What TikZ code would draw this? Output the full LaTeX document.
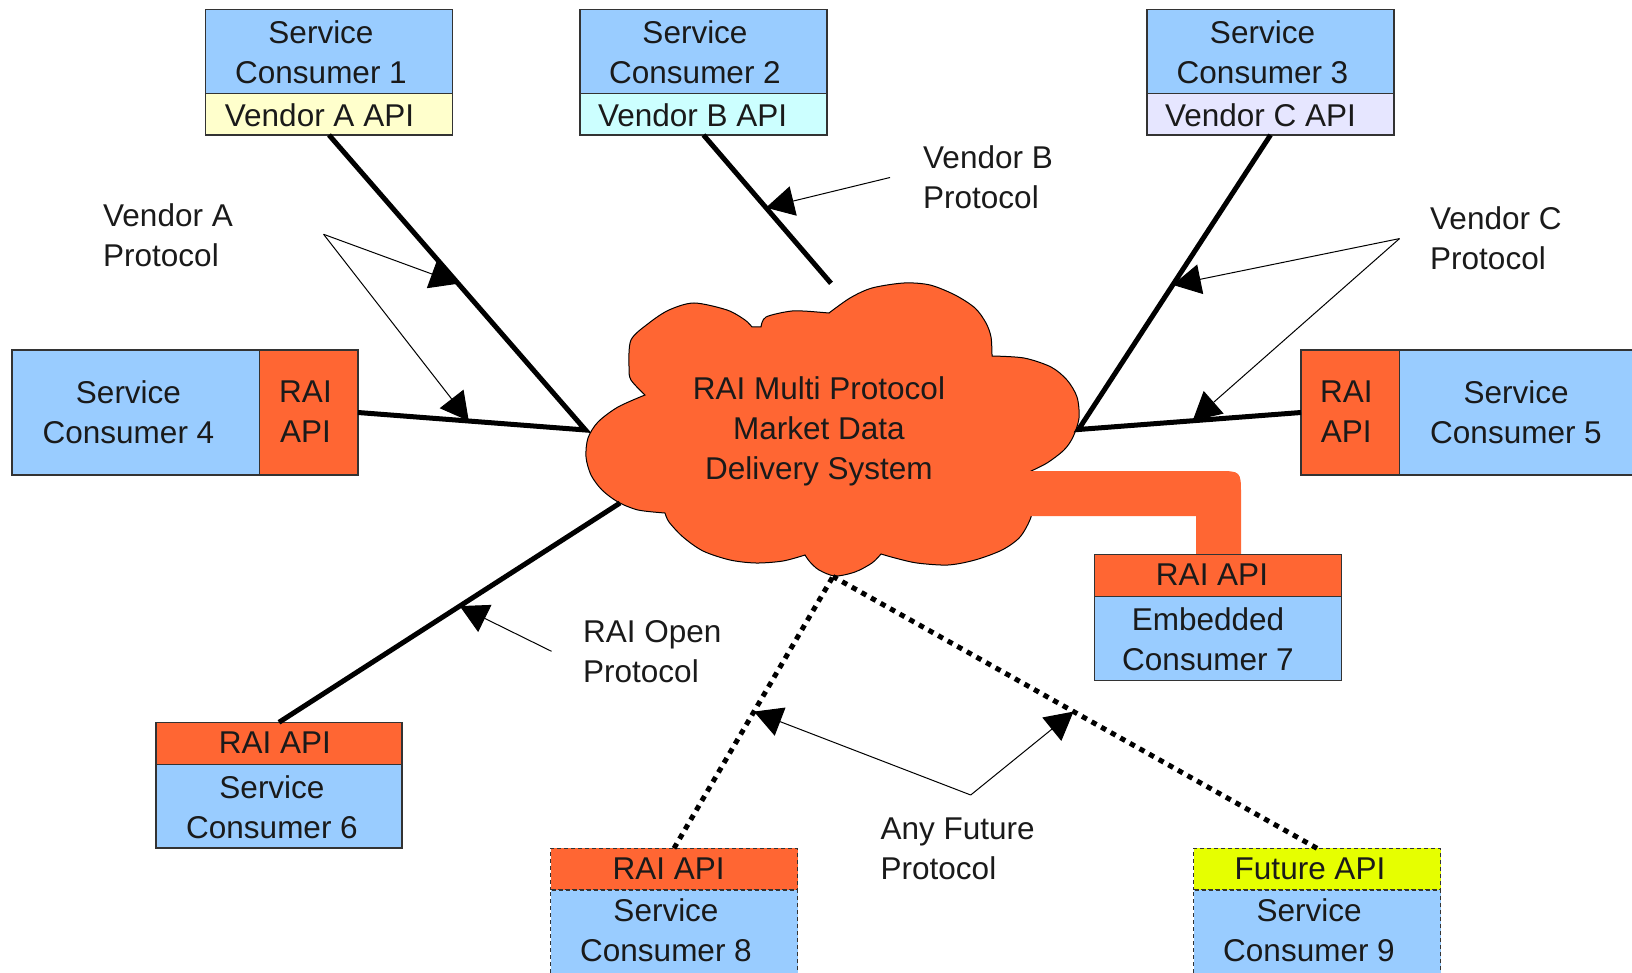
\documentclass[tikz,border=0pt]{standalone}
\usepackage{fontspec}
\setmainfont{Liberation Sans}
\usetikzlibrary{arrows.meta,calc}
\definecolor{svcblue}{HTML}{99CCFF}
\definecolor{raiorange}{HTML}{FF6633}
\definecolor{vendA}{HTML}{FFFFCC}
\definecolor{vendB}{HTML}{CCFFFF}
\definecolor{vendC}{HTML}{E6E6FF}
\definecolor{futureapi}{HTML}{E6FF00}
\definecolor{ink}{HTML}{1A1A1A}

\begin{document}
\begin{tikzpicture}[x=1pt,y=-1pt,
  cell/.style={draw=black!80, line width=1.2pt, inner sep=0pt, outer sep=0pt, minimum width=247pt},
  tall/.style={cell, fill=svcblue, minimum height=84pt},
  strip/.style={cell, minimum height=42pt},
  tentative/.style={dash pattern=on 4pt off 3pt},
  txt/.style={font=\fontsize{31.5}{40}\selectfont, text=ink, align=center, inner sep=0pt, yshift=-4pt,
              execute at begin node=\strut, execute at end node=\strut},
  lbl/.style={txt, align=left, anchor=west},
  link/.style={line width=5pt, line join=miter},
  future/.style={line width=5pt, dash pattern=on 5.5pt off 5.5pt},
  note/.style={line width=1pt, -{Triangle[length=28pt,width=30pt]}}
]
\useasboundingbox (0,0) rectangle (1632,973);

% ---- central delivery system cloud ----
\filldraw[fill=raiorange, draw=black, line width=1pt]
  plot[smooth] coordinates {(645,395) (631,380) (629,367) (631,340) (649,323) (669,310) (694,303) (727,310) (745,320) (752,327)}
  -- plot[smooth] coordinates {(761,327) (766,317) (792,311) (817,312)}
  -- plot[smooth] coordinates {(829,313) (850,298) (872,288) (904,283) (930,285) (955,295) (975,308) (986,323) (991,337) (992,355)}
  -- plot[smooth] coordinates {(992,356) (1024,358) (1051,367) (1067,380) (1077,397) (1079,418) (1073,437) (1064,450) (1047,463) (1029,472)}
  -- plot[smooth] coordinates {(1029,472) (1033,497) (1031,517) (1020,537) (1002,550) (975,560) (948,565) (917,563) (895,558) (881,554)}
  -- plot[smooth] coordinates {(881,554) (872,563) (855,572) (835,576) (819,570) (810,562) (805,555)}
  -- plot[smooth] coordinates {(805,555) (783,561) (756,563) (730,560) (703,551) (683,537) (669,522) (665,513)}
  -- plot[smooth] coordinates {(665,513) (638,510) (618,502) (602,490) (591,475) (586,457) (588,438) (598,422) (618,407) (645,395)}
  -- cycle;
\node[txt] (core) at (819,430.3) {RAI Multi Protocol\\Market Data\\Delivery System};

% attachment points on the cloud
\coordinate (cW)  at (585.5,430);
\coordinate (cE)  at (1078.5,429.5);
\coordinate (cN)  at (831,283.3);
\coordinate (cSW) at (620,503);
\coordinate (cS)  at (833,576.5);

% embedded pipe to consumer 7
\fill[raiorange] (1000,471) -- (1217,471) .. controls (1241,471) .. (1241,495)
  -- (1241,556) -- (1196,556) -- (1196,516) -- (1000,516) -- cycle;

% ---- consumers ----
\node[tall] (c1a) at (329,51.5) {};
\node[strip, fill=vendA, minimum height=41.5pt] (c1b) at (329,114.25) {};
\node[txt] at (321,53.7) {Service\\Consumer 1};
\node[txt] at (319.5,115) {Vendor A API};

\node[tall] (c2a) at (703.5,51.5) {};
\node[strip, fill=vendB, minimum height=41.5pt] (c2b) at (703.5,114.25) {};
\node[txt] at (695,53.7) {Service\\Consumer 2};
\node[txt] at (692.6,115) {Vendor B API};

\node[tall] (c3a) at (1270.5,51.5) {};
\node[strip, fill=vendC, minimum height=41.5pt] (c3b) at (1270.5,114.25) {};
\node[txt] at (1262.5,53.7) {Service\\Consumer 3};
\node[txt] at (1260.5,115) {Vendor C API};

\node[cell, fill=svcblue, minimum width=247.6pt, minimum height=125pt] (c4l) at (135.8,412.5) {};
\node[cell, fill=raiorange, minimum width=98.4pt, minimum height=125pt] (c4r) at (308.8,412.5) {};
\node[txt] at (128.5,413.7) {Service\\Consumer 4};
\node[txt] at (305.5,413.7) {RAI\\API};

\node[cell, fill=raiorange, minimum width=98.5pt, minimum height=125pt] (c5l) at (1350.25,412.5) {};
\node[cell, fill=svcblue, minimum width=247.5pt, minimum height=125pt] (c5r) at (1523.25,412.5) {};
\node[txt] at (1346.3,413.7) {RAI\\API};
\node[txt] at (1516,413.7) {Service\\Consumer 5};

\node[strip, fill=raiorange, minimum width=246pt] (c6t) at (279,743.3) {};
\node[tall, minimum width=246pt, minimum height=83.7pt] (c6b) at (279,806.15) {};
\node[txt] at (274.8,741.7) {RAI API};
\node[txt] at (272,808.7) {Service\\Consumer 6};

\node[strip, fill=raiorange] (c7t) at (1218,575.5) {};
\node[tall, minimum height=83.6pt] (c7b) at (1218,638.5) {};
\node[txt] at (1212,573.3) {RAI API};
\node[txt] at (1208,641) {Embedded\\Consumer 7};

\node[strip, tentative, fill=raiorange, minimum height=41.7pt] (c8t) at (674,869.15) {};
\node[tall, tentative, minimum height=85pt] (c8b) at (674,932.5) {};
\node[txt] at (668.7,867.3) {RAI API};
\node[txt] at (666,932) {Service\\Consumer 8};

\node[strip, tentative, fill=futureapi, minimum height=41.7pt] (c9t) at (1317,869.15) {};
\node[tall, tentative, minimum height=85pt] (c9b) at (1317,932.5) {};
\node[txt] at (1310,867.3) {Future API};
\node[txt] at (1309,932) {Service\\Consumer 9};

% ---- protocol labels and pointers ----
\node[lbl] (labA) at (103,237)   {Vendor A\\Protocol};
\node[lbl] (labB) at (923,178.7) {Vendor B\\Protocol};
\node[lbl] (labC) at (1430,239.7) {Vendor C\\Protocol};
\node[lbl] (labO) at (583,653.7) {RAI Open\\Protocol};
\node[lbl] (labF) at (880.5,850.3) {Any Future\\Protocol};

\coordinate (pA) at (323.6,234.3);
\coordinate (pB) at (890,177.5);
\coordinate (pC) at (1399.5,238.6);
\coordinate (pO) at (551.5,651.3);
\coordinate (pF) at (970.7,795);

\coordinate (tA1) at ($(c1b.south)!0.504!(cW)$);
\coordinate (tA2) at ($(c4r.east)!0.487!(cW)$);
\coordinate (tB)  at ($(c2b.south)!0.49!(cN)$);
\coordinate (tC1) at ($(c3b.south)!0.509!(cE)$);
\coordinate (tC2) at ($(c5l.west)!0.487!(cE)$);
\coordinate (tO)  at ($(c6t.north)!0.53!(cSW)$);
\coordinate (tF1) at ($(c8t.north)!0.503!(cS)$);
\coordinate (tF2) at ($(c9t.north)!0.503!(cS)$);

\draw[note] (pA) -- (tA1);
\draw[note] (pA) -- (tA2);
\draw[note] (pB) -- (tB);
\draw[note] (pC) -- (tC1);
\draw[note] (pC) -- (tC2);
\draw[note] (pO) -- (tO);
\draw[note] (pF) -- (tF1);
\draw[note] (pF) -- (tF2);

% ---- protocol links ----
\draw[link] (c1b.south) -- (cW) -- (c4r.east);
\draw[link] (c2b.south) -- (cN);
\draw[link] (c3b.south) -- (cE) -- (c5l.west);
\draw[link] (c6t.north) -- (cSW);
\draw[future] (c8t.north) -- (cS);
\draw[future] (c9t.north) -- (cS);
\end{tikzpicture}
\end{document}
